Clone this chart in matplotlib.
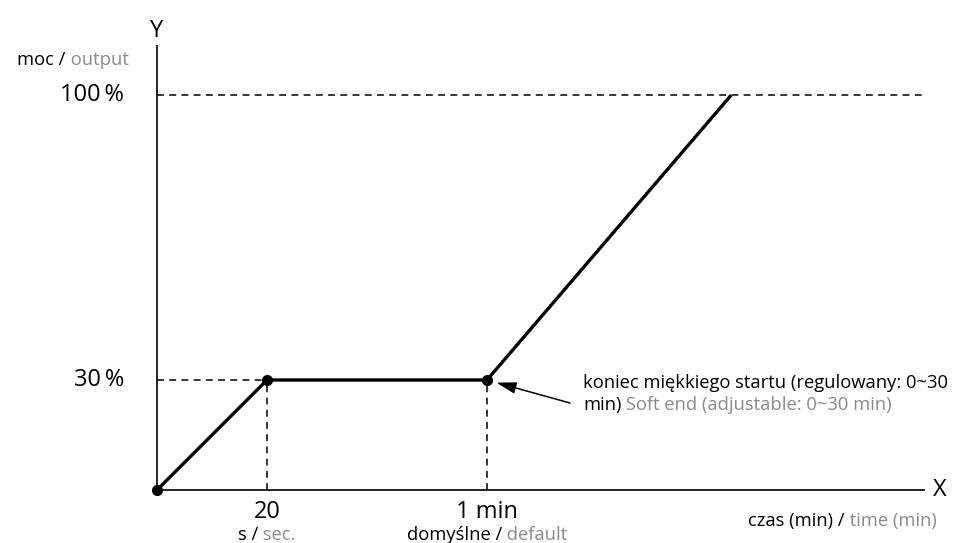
import matplotlib
matplotlib.use("Agg")
import matplotlib.pyplot as plt
from matplotlib.offsetbox import TextArea, HPacker, VPacker, AnnotationBbox

plt.rcParams['font.family'] = ['Open Sans', 'DejaVu Sans']

# schematic positions (x in units of 20 s, y in drawing units)
x_pts = [0, 1, 3, 5.22]
y_pts = [0, 1, 1, 3.59]
y_levels = [1, 3.59]
y_labels = ['30\u2009%', '100\u2009%']
x_ticks = [1, 3]
x_top = ['20', '1 min']
x_sub_pl = ['s /', 'domyślne /']
x_sub_en = ['sec.', 'default']

GREY = '#8a8a8a'
SMALL = 13.2
BIG = 17

fig = plt.figure(figsize=(9.66, 5.43), dpi=100)
ax = fig.add_axes([0, 0, 1, 1])
ax.set_xlim(-157 / 110, (966 - 157) / 110)
ax.set_ylim(-53 / 110, (543 - 53) / 110)
ax.axis('off')

x_end = 6.98
y_end = 4.045

# axes
ax.plot([0, x_end], [0, 0], color='black', lw=1.2, solid_capstyle='butt')
ax.plot([0, 0], [0, y_end], color='black', lw=1.2, solid_capstyle='butt')
ax.text(0, 4.17, 'Y', fontsize=BIG, ha='center', va='center')
ax.text(7.12, 0, 'X', fontsize=BIG, ha='center', va='center')

# dashed guides
dash = dict(color='black', lw=1.1, linestyle=(0, (4.5, 3.5)))
ax.plot([0, x_pts[1]], [y_levels[0], y_levels[0]], **dash)
ax.plot([0, x_end], [y_levels[1], y_levels[1]], **dash)
for xt in x_ticks:
    ax.plot([xt, xt], [0, y_levels[0]], **dash)

# main curve
ax.plot(x_pts, y_pts, color='black', lw=2.4, solid_capstyle='butt', solid_joinstyle='miter')
ax.plot(x_pts[:3], y_pts[:3], 'o', color='black', ms=7)

# y labels
for yl, lab in zip(y_levels, y_labels):
    ax.text(-0.3, yl, lab, fontsize=BIG, ha='right', va='center')


def two_tone(parts, size):
    boxes = [TextArea(t, textprops=dict(color=c, fontsize=size)) for t, c in parts]
    return HPacker(children=boxes, align='baseline', pad=0, sep=0)


def place(box, xy, align):
    ab = AnnotationBbox(box, xy, xycoords='data', box_alignment=align, frameon=False, pad=0)
    ax.add_artist(ab)


place(two_tone([('moc /', 'black'), (' output', GREY)], SMALL), (-0.26, 3.91), (1, 0.5))

for xt, top, pl, en in zip(x_ticks, x_top, x_sub_pl, x_sub_en):
    ax.text(xt, -0.2, top, fontsize=BIG, ha='center', va='center')
    place(two_tone([(pl, 'black'), (' ' + en, GREY)], SMALL), (xt, -0.41), (0.5, 0.5))

place(two_tone([('czas (min) /', 'black'), (' time (min)', GREY)], SMALL), (6.23, -0.28), (0.5, 0.5))

# annotation for soft end
line1 = TextArea('koniec miękkiego startu (regulowany: 0~30', textprops=dict(color='black', fontsize=SMALL))
line2 = two_tone([('min)', 'black'), (' Soft end (adjustable: 0~30 min)', GREY)], SMALL)
note = VPacker(children=[line1, line2], align='left', pad=0, sep=3)
place(note, ((583 - 157) / 110, (490 - 394) / 110), (0, 0.5))

ax.annotate('', xy=(x_pts[2], y_pts[2]), xytext=(83, -23), textcoords='offset pixels',
            arrowprops=dict(arrowstyle='-|>,head_length=1.2,head_width=0.35', color='black',
                            lw=1.1, shrinkA=0, shrinkB=7, mutation_scale=10))

fig.savefig('out.png', dpi=100)
